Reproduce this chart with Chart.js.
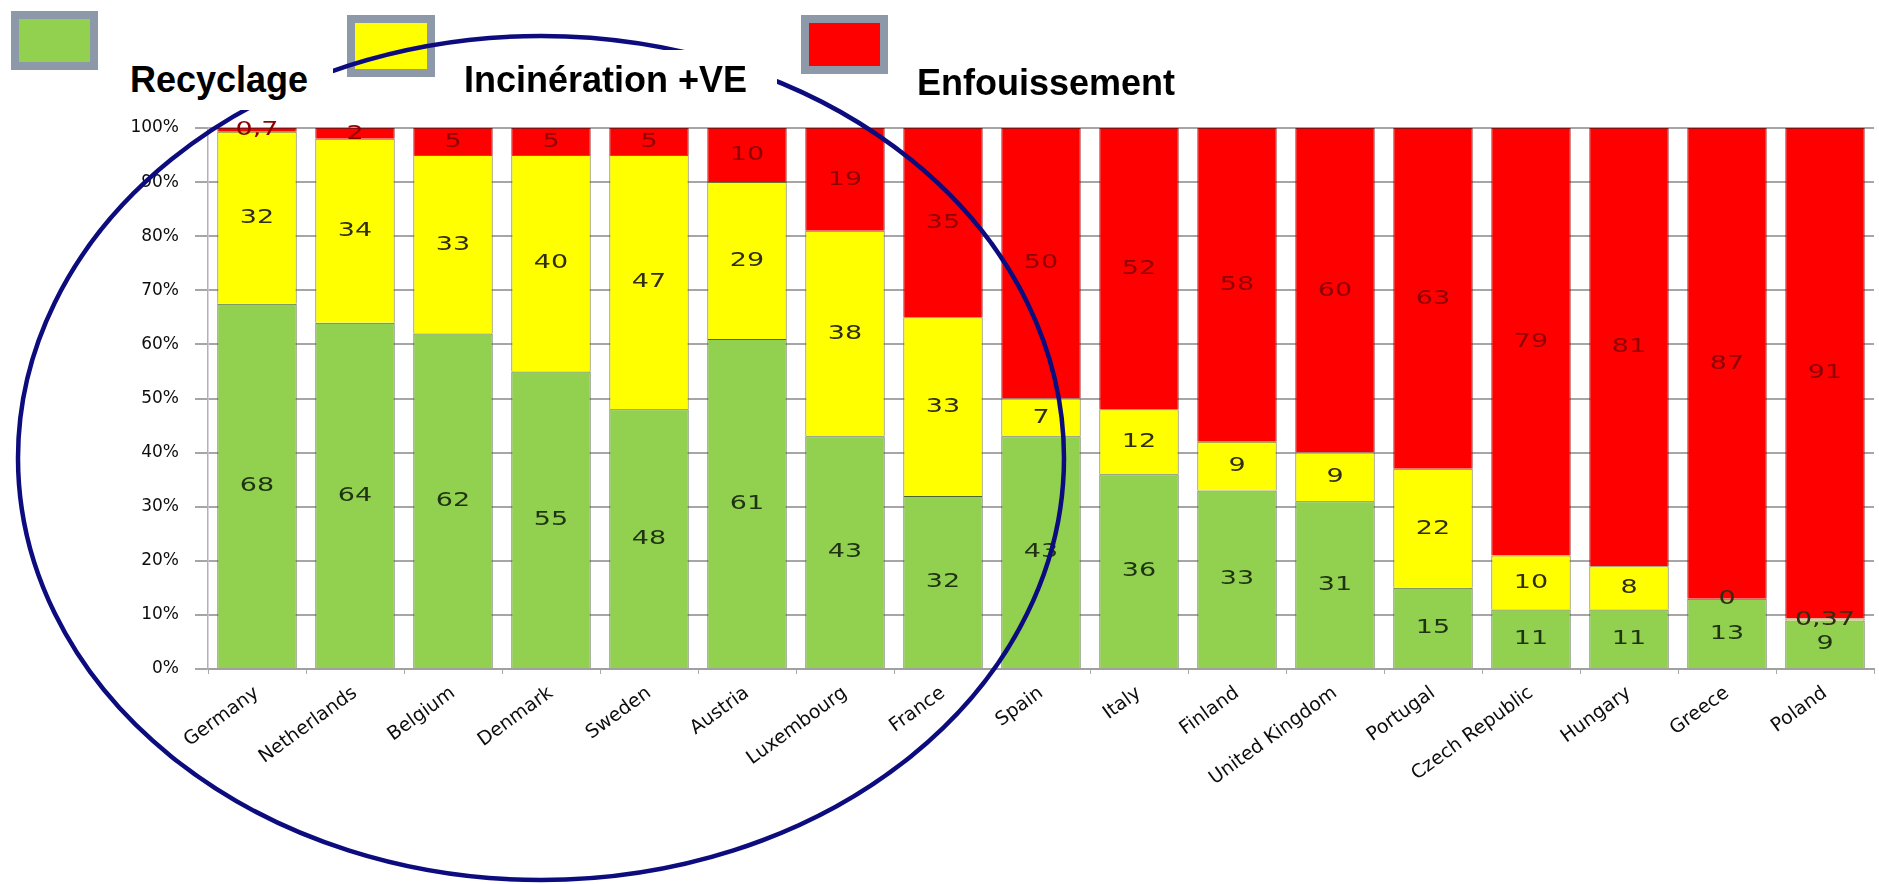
<!DOCTYPE html>
<html lang="fr">
<head>
<meta charset="utf-8">
<title>Recyclage, incinération, enfouissement</title>
<script src="https://cdn.jsdelivr.net/npm/chart.js@4.4.1/dist/chart.umd.min.js"></script>
<style>
    body { margin: 0; background: #fff; }
    #page { position: relative; width: 1879px; height: 884px; overflow: hidden; }
    #chart { position: absolute; left: 0; top: 0; }
    .swatch { position: absolute; box-sizing: border-box; border: 8px solid #8d99a8; z-index: 1; }
    #cercle { position: absolute; left: 0; top: 0; z-index: 2; pointer-events: none; }
    .etiquette { position: absolute; background: #fff; z-index: 3; }
    .etiquette span {
        position: absolute; white-space: nowrap;
        font: bold 36px "Liberation Sans", Arial, sans-serif; line-height: 36px; color: #000;
    }
</style>
</head>
<body>
<div id="page">
    <canvas id="chart" width="1879" height="884"></canvas>

    <div class="swatch" style="left:11px; top:11px; width:87px; height:59px; background:#92d050;"></div>
    <div class="swatch" style="left:347px; top:15px; width:88px; height:62px; background:#ffff00;"></div>
    <div class="swatch" style="left:801px; top:15px; width:87px; height:59px; background:#ff0000;"></div>

    <svg id="cercle" width="1879" height="884">
        <ellipse cx="541" cy="458" rx="523" ry="422" fill="none" stroke="#0c0c7e" stroke-width="4.5"/>
    </svg>

    <div class="etiquette" style="left:118px; top:55px; width:215px; height:55px;"><span style="left:12px; top:7px;">Recyclage</span></div>
    <div class="etiquette" style="left:452px; top:50px; width:325px; height:60px;"><span style="left:12px; top:12px;">Incinération +VE</span></div>
    <div class="etiquette" style="left:905px; top:55px; width:290px; height:55px;"><span style="left:12px; top:10px;">Enfouissement</span></div>
</div>

<script>
// --- DONNÉES ---
const pays = ['Germany', 'Netherlands', 'Belgium', 'Denmark', 'Sweden', 'Austria', 'Luxembourg', 'France',
    'Spain', 'Italy', 'Finland', 'United Kingdom', 'Portugal', 'Czech Republic', 'Hungary', 'Greece', 'Poland'];
const recyclage     = [68, 64, 62, 55, 48, 61, 43, 32, 43, 36, 33, 31, 15, 11, 11, 13, 9];
const incineration  = [32, 34, 33, 40, 47, 29, 38, 33, 7, 12, 9, 9, 22, 10, 8, 0, 0.37];
const enfouissement = [0.7, 2, 5, 5, 5, 10, 19, 35, 50, 52, 58, 60, 63, 79, 81, 87, 91];
const graduations = [0, 10, 20, 30, 40, 50, 60, 70, 80, 90, 100];

document.addEventListener('DOMContentLoaded', function() {

    // graphique "100 % empilé" : chaque colonne est ramenée à 100
    const totaux = pays.map((p, i) => recyclage[i] + incineration[i] + enfouissement[i]);
    const enPourcent = serie => serie.map((v, i) => v / totaux[i] * 100);

    // --- ÉTIQUETTES DE VALEURS (au centre de chaque segment) ---
    // l'image d'origine est étirée en largeur, d'où le scale(1.35, 1)
    const valeursPlugin = {
        id: 'valeurs',
        afterDatasetsDraw(chart) {
            const ctx = chart.ctx;
            chart.data.datasets.forEach((ds, d) => {
                chart.getDatasetMeta(d).data.forEach((bar, i) => {
                    const texte = String(ds.brut[i]).replace('.', ',');
                    ctx.save();
                    ctx.translate(bar.x, (bar.y + bar.base) / 2);
                    ctx.scale(1.35, 1);
                    ctx.font = '20px "DejaVu Sans", sans-serif';
                    ctx.textAlign = 'center';
                    ctx.textBaseline = 'middle';
                    ctx.fillStyle = ds.couleurTexte;
                    ctx.fillText(texte, 0, 0);
                    ctx.restore();
                });
            });
        }
    };

    const ctx = document.getElementById('chart').getContext('2d');

    new Chart(ctx, {
        type: 'bar',
        data: {
            labels: pays,
            datasets: [
                {
                    label: 'Recyclage',
                    data: enPourcent(recyclage),
                    brut: recyclage,
                    backgroundColor: '#92d050',
                    borderColor: '#4f6338',
                    borderWidth: 1,
                    couleurTexte: '#1f3312'
                },
                {
                    label: 'Incinération +VE',
                    data: enPourcent(incineration),
                    brut: incineration,
                    backgroundColor: '#ffff00',
                    borderColor: '#6f6f2a',
                    borderWidth: 1,
                    couleurTexte: '#2f2f10'
                },
                {
                    label: 'Enfouissement',
                    data: enPourcent(enfouissement),
                    brut: enfouissement,
                    backgroundColor: '#ff0000',
                    borderColor: '#8a1010',
                    borderWidth: 1,
                    couleurTexte: '#8f0000'
                }
            ]
        },
        options: {
            responsive: false,
            animation: false,
            layout: { padding: { top: 128, right: 5, left: 0, bottom: 0 } },
            plugins: {
                legend: { display: false },
                tooltip: { enabled: false }
            },
            datasets: { bar: { barPercentage: 0.81, categoryPercentage: 1 } },
            scales: {
                x: {
                    stacked: true,
                    afterFit: scale => { scale.height = 215; },
                    grid: { drawOnChartArea: false, color: '#a8a8a8', tickLength: 5 },
                    border: { color: '#a0a0a0', width: 2 },
                    ticks: {
                        autoSkip: false,
                        minRotation: 36,
                        maxRotation: 36,
                        padding: 8,
                        color: '#0d0d0d',
                        font: { family: '"DejaVu Sans", sans-serif', size: 19 }
                    }
                },
                y: {
                    stacked: true,
                    min: 0,
                    max: 100,
                    afterFit: scale => { scale.width = 208; },
                    afterBuildTicks: scale => { scale.ticks = graduations.map(v => ({ value: v })); },
                    grid: { color: '#a6a6a6', lineWidth: 2, tickLength: 13 },
                    border: { color: '#b4acc4', width: 1.5 },
                    ticks: {
                        padding: 16,
                        color: '#0d0d0d',
                        font: { family: '"DejaVu Sans", sans-serif', size: 17 },
                        callback: v => v + '%'
                    }
                }
            }
        },
        plugins: [valeursPlugin]
    });
});
</script>
</body>
</html>
